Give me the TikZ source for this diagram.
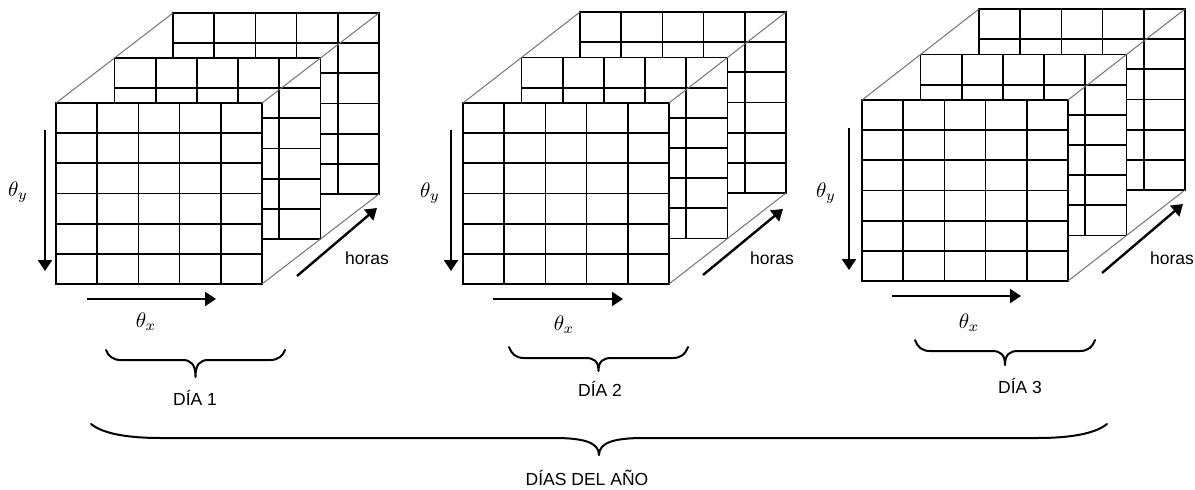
\documentclass[tikz,border=0pt]{standalone}
\usepackage{fontspec}
\setsansfont{Liberation Sans}
\usetikzlibrary{arrows.meta}

% one grid plane: 5 columns x 6 rows, top-left corner at (#1,#2)
\newcommand\gridplane[2]{%
  \fill[white] (#1,#2) rectangle ++(206,181);
  \foreach \i in {1,...,4} \draw[gridline] ({#1+\i*41.2},#2) -- ++(0,181);
  \foreach \j in {1,...,5} \draw[gridline] (#1,{#2+\j*181/6}) -- ++(206,0);
  \draw[gridline] (#1,#2) rectangle ++(206,181);
}

% three stacked planes: front corner (#1,#2), depth step (#3,#4)
\newcommand\cubestack[4]{%
  \gridplane{#1+2*#3}{#2+2*#4}
  \gridplane{#1+#3}{#2+#4}
  \gridplane{#1}{#2}
  \draw[edgeline] (#1,#2) -- ++({2*#3},{2*#4});
  \draw[edgeline] ({#1+206},#2) -- ++({2*#3},{2*#4});
  \draw[edgeline] ({#1+206},{#2+181}) -- ++({2*#3},{2*#4});
}

% curly brace opening upward: ends x #1..#2 at height #3, flat drop #4,
% tip drop #5, end curl length #6, tip half width #7
\newcommand\curlybrace[7]{%
  \pgfmathsetmacro\xm{(#1+#2)/2}
  \draw[bracel] (#1,#3)
    .. controls ({#1+0.15*#6},{#3+0.6*#4}) and ({#1+0.45*#6},{#3+#4}) .. ({#1+#6},{#3+#4})
    -- ({\xm-#7},{#3+#4})
    .. controls ({\xm-0.35*#7},{#3+#4}) and ({\xm},{#3+#4+0.25*(#5-#4)}) .. ({\xm},{#3+#5})
    .. controls ({\xm},{#3+#4+0.25*(#5-#4)}) and ({\xm+0.35*#7},{#3+#4}) .. ({\xm+#7},{#3+#4})
    -- ({#2-#6},{#3+#4})
    .. controls ({#2-0.45*#6},{#3+#4}) and ({#2-0.15*#6},{#3+0.6*#4}) .. (#2,#3);
}

% enlarged math label
\newcommand\biglbl[1]{\scalebox{2.1}{$#1$}}

\tikzset{
  gridline/.style={black, line width=1.7pt},
  edgeline/.style={black!55, line width=1pt},
  axisarrow/.style={black, line width=2.4pt, -{Triangle[length=11pt,width=14pt]}},
  bracel/.style={black, line width=2pt, line cap=round, line join=round},
  mathlbl/.style={inner sep=0pt},
  txtlbl/.style={font=\sffamily\fontsize{17.5}{18}\selectfont, inner sep=0pt}
}

\begin{document}
\begin{tikzpicture}[x=1pt,y=-1pt]
\useasboundingbox (0,0) rectangle (1195,490);

% the three stacks of hourly grids
\cubestack{56}{103}{58.5}{-45}
\cubestack{463}{103}{58.5}{-45.5}
\cubestack{862}{100}{58.5}{-45.5}

% axis arrows, day 1
\coordinate (y1a) at (45,130);  \coordinate (y1b) at (45,271);
\coordinate (x1a) at (87,299);  \coordinate (x1b) at (216,299);
\coordinate (h1a) at (297,276); \coordinate (h1b) at (377,208);
\draw[axisarrow] (y1a) -- (y1b);
\draw[axisarrow] (x1a) -- (x1b);
\draw[axisarrow] (h1a) -- (h1b);
\node[mathlbl] (ty1) at (18,192) {\biglbl{\theta_y}};
\node[mathlbl] (tx1) at (146,322) {\biglbl{\theta_x}};
\node[txtlbl] (ho1) at (367,258) {horas};

% axis arrows, day 2
\coordinate (y2a) at (451,130); \coordinate (y2b) at (451,271);
\coordinate (x2a) at (493,299); \coordinate (x2b) at (623,299);
\coordinate (h2a) at (703,275); \coordinate (h2b) at (783,209);
\draw[axisarrow] (y2a) -- (y2b);
\draw[axisarrow] (x2a) -- (x2b);
\draw[axisarrow] (h2a) -- (h2b);
\node[mathlbl] (ty2) at (430,193) {\biglbl{\theta_y}};
\node[mathlbl] (tx2) at (564,325) {\biglbl{\theta_x}};
\node[txtlbl] (ho2) at (772,258) {horas};

% axis arrows, day 3
\coordinate (y3a) at (849,128); \coordinate (y3b) at (849,270);
\coordinate (x3a) at (892,296); \coordinate (x3b) at (1021,296);
\coordinate (h3a) at (1102,273); \coordinate (h3b) at (1183,204);
\draw[axisarrow] (y3a) -- (y3b);
\draw[axisarrow] (x3a) -- (x3b);
\draw[axisarrow] (h3a) -- (h3b);
\node[mathlbl] (ty3) at (826,193) {\biglbl{\theta_y}};
\node[mathlbl] (tx3) at (969,323) {\biglbl{\theta_x}};
\node[txtlbl] (ho3) at (1172,258) {horas};

% day braces
\curlybrace{106}{285}{350}{10}{27}{15}{13}
\node[txtlbl] (d1) at (195,398) {DÍA 1};
\curlybrace{509}{688}{347}{11}{24}{15}{13}
\node[txtlbl] (d2) at (600,389) {DÍA 2};
\curlybrace{915}{1095}{340}{11}{25}{15}{13}
\node[txtlbl] (d3) at (1020,386) {DÍA 3};

% year brace
\curlybrace{91}{1107}{424}{14}{31}{70}{45}
\node[txtlbl] (yr) at (587,478) {DÍAS DEL AÑO};
\end{tikzpicture}
\end{document}
